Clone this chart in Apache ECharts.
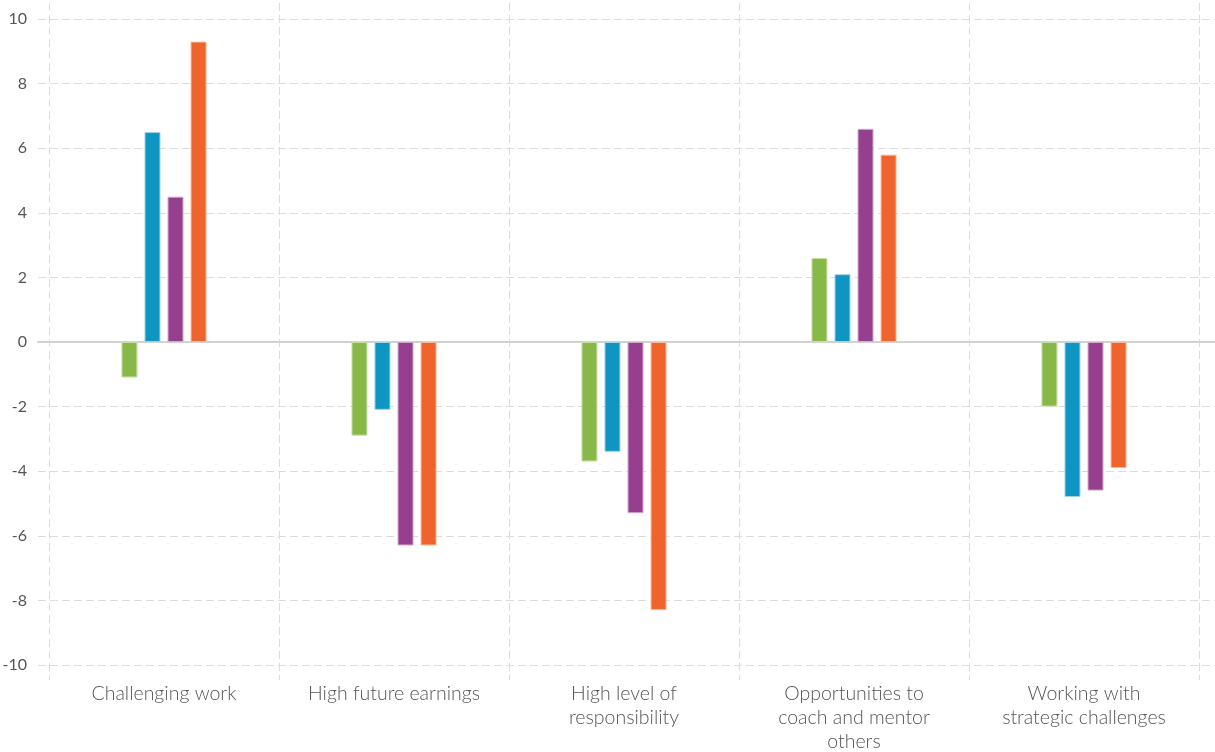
<!DOCTYPE html>
<html>
<head>
<meta charset="utf-8">
<script src="https://cdn.jsdelivr.net/npm/echarts@6/dist/echarts.min.js"></script>
<style>html,body{margin:0;padding:0;background:#fff}#c{width:1215px;height:752px}</style>
</head>
<body>
<div id="c"></div>
<script>
const categories = ['Challenging work', 'High future earnings', 'High level of\nresponsibility', 'Opportunities to\ncoach and mentor\nothers', 'Working with\nstrategic challenges'];
const seriesNames = ['Series 1', 'Series 2', 'Series 3', 'Series 4'];
const seriesGreen = [-1.1, -2.9, -3.7, 2.6, -2.0];
const seriesBlue = [6.5, -2.1, -3.4, 2.1, -4.8];
const seriesPurple = [4.5, -6.3, -5.3, 6.6, -4.6];
const seriesOrange = [9.3, -6.3, -8.3, 5.8, -3.9];
const yTicks = { min: -10, max: 10, interval: 2 };

const colors = ['#88b948', '#0e95c2', '#963f8e', '#ef632c'];
const borders = ['#c9e0a8', '#9fd3e6', '#d3a9cf', '#f8b89c'];
const values = [seriesGreen, seriesBlue, seriesPurple, seriesOrange];
const fontFam = 'Lato, "Open Sans", sans-serif';
const dash = [8, 4];
const gridColor = '#dcdcdc';

const chart = echarts.init(document.getElementById('c'), null, { renderer: 'canvas' });
chart.setOption({
  animation: false,
  backgroundColor: '#fff',
  grid: [
    { left: 49, right: 16, top: 19, bottom: 87, outerBoundsMode: 'none', containLabel: false },   // main bars
    { left: 38, right: 0, top: 19, bottom: 87, outerBoundsMode: 'none', containLabel: false },    // horizontal lines
    { left: 49, right: 16, top: 3, bottom: 72, outerBoundsMode: 'none', containLabel: false }     // vertical lines
  ],
  xAxis: [
    { type: 'category', gridIndex: 0, data: categories,
      axisLine: { show: false }, axisTick: { show: false }, splitLine: { show: false },
      axisLabel: { interval: 0, margin: 17, fontSize: 19.5, lineHeight: 24, color: '#555', fontFamily: fontFam, fontWeight: 300 } },
    { type: 'value', gridIndex: 1, min: -1, max: 1, show: true,
      axisLine: { show: true, onZero: true, lineStyle: { color: '#d2d2d2', width: 2 } },
      axisTick: { show: false }, axisLabel: { show: false }, splitLine: { show: false } },
    { type: 'category', gridIndex: 2, data: categories,
      axisLine: { show: false }, axisTick: { show: false }, axisLabel: { show: false },
      splitLine: { show: true, interval: 0, lineStyle: { color: gridColor, type: dash, width: 1 } } }
  ],
  yAxis: [
    { type: 'value', gridIndex: 0, min: yTicks.min, max: yTicks.max, interval: yTicks.interval,
      axisLine: { show: false }, axisTick: { show: false }, splitLine: { show: false },
      axisLabel: { margin: 22, fontSize: 16, color: '#555', fontFamily: fontFam } },
    { type: 'value', gridIndex: 1, min: yTicks.min, max: yTicks.max, interval: yTicks.interval,
      axisLine: { show: false }, axisTick: { show: false }, axisLabel: { show: false },
      splitLine: { show: true, lineStyle: { color: gridColor, type: dash, width: 1 } } },
    { type: 'value', gridIndex: 2, min: 0, max: 1, show: false }
  ],
  series: values.map((v, i) => ({
    name: seriesNames[i],
    type: 'bar',
    xAxisIndex: 0, yAxisIndex: 0,
    data: v,
    barWidth: 16,
    barGap: '44%',
    itemStyle: { color: colors[i], borderColor: borders[i], borderWidth: 1 }
  }))
});
</script>
</body>
</html>
